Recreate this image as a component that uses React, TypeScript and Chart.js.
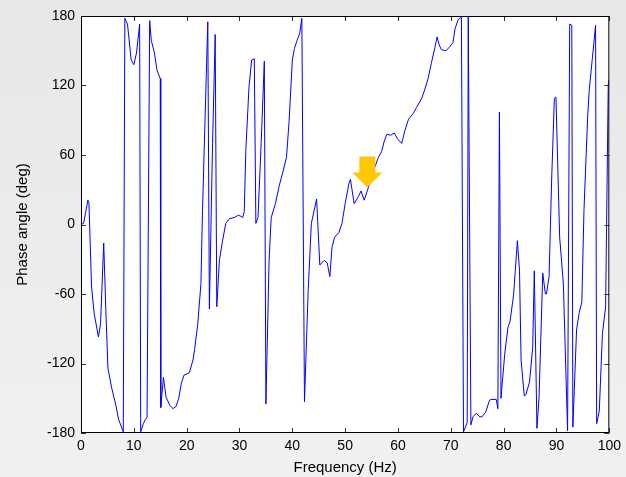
import React, { useEffect, useRef } from "react";
import { Chart, registerables } from "chart.js";

Chart.register(...registerables);

// Frequency samples (Hz)
const FREQ = [
  0, 0.5, 1.3, 1.5, 2.0, 2.5, 3.3, 3.7, 4.3, 4.7, 5.1, 5.8, 6.6, 7.1, 8.0, 8.3,
  8.8, 9.5, 10.0, 10.5, 11.1, 11.3, 11.8, 12.2, 12.5, 13.0, 13.3, 13.9, 14.4,
  15.0, 15.1, 15.6, 16.1, 16.8, 17.4, 18.0, 18.5, 19.0, 19.5, 20.5, 21.2, 21.5,
  22.1, 22.7, 23.0, 23.7, 24.0, 24.3, 24.9, 25.4, 25.7, 26.2, 26.8, 27.4, 28.1,
  29.0, 29.8, 30.3, 30.6, 30.9, 31.2, 31.8, 32.3, 32.8, 33.1, 33.5, 34.1, 34.7,
  35.0, 35.6, 36.0, 36.8, 37.5, 38.3, 38.9, 39.4, 40.0, 40.4, 40.9, 41.4, 41.8,
  42.3, 43.0, 43.6, 44.6, 45.2, 46.0, 46.6, 47.1, 47.5, 48.0, 48.8, 49.4, 50.0,
  50.7, 51.0, 51.7, 52.5, 53.0, 53.6, 54.4, 55.4, 56.3, 56.9, 57.4, 57.9, 58.6,
  59.3, 59.9, 60.7, 61.3, 62.0, 62.9, 63.5, 64.5, 65.1, 65.7, 66.3, 67.0, 67.4,
  67.8, 68.2, 69.1, 69.7, 70.4, 70.8, 71.4, 72.0, 72.4, 73.1, 73.3, 73.8, 74.2,
  74.8, 75.5, 75.9, 76.6, 77.3, 77.6, 78.6, 78.9, 79.2, 79.5, 80.2, 80.8, 81.2,
  81.9, 82.2, 82.6, 83.0, 83.3, 83.9, 84.2, 84.9, 85.5, 85.8, 86.3, 86.7, 87.4,
  87.9, 88.1, 88.6, 89.1, 89.6, 89.9, 90.6, 91.3, 92.1, 92.5, 92.9, 93.1, 93.8,
  94.3, 94.8, 95.2, 95.9, 96.2, 96.8, 97.4, 97.6, 98.1, 98.7, 99.3, 99.8, 100,
];

// Phase angle (deg) at each frequency
const PHASE = [
  0, 1, 21, 19, -54, -77, -97, -86, -16, -74, -124, -141, -156, -168, -179, 178,
  173, 142, 138, 148, 173, -179, -172, -168, -167, 176, 159, 148, 133,
  126, -158, -132, -149, -156, -159, -157, -150, -137, -130, -128, -117, -108,
  -86, -51, 12, 127, 175, -73, 70, 164, -71, -31, -14, 1, 5,
  6, 8, 7, 6, 11, 64, 119, 142, 143, 1, 6, 70, 141,
  -155, -31, 6, 18, 33, 47, 58, 90, 142, 152, 159, 165, 178,
  -153, -57, 1, 22, -35, -31, -33, -45, -20, -11, -7, 1, 18,
  35, 39, 18, 24, 29, 21, 32, 47, 58, 63, 72, 78, 77,
  79, 74, 70, 81, 91, 96, 101, 109, 117, 126, 139, 153, 162,
  155, 151, 150, 153, 157, 169, 177, 179, -179, -171, 179, -173, -166,
  -163, -166, -166, -162, -152, -151, -151, -159, 97, -150, -112, -89, -84,
  -60, -40, -14, -40, -117, -148, -147, -136, -106, -40, -176, -149, -42,
  -60, -60, -45, 41, 109, 110, -11, -51, -178, 173, 172, -175, -91,
  -76, -67, 12, 93, 116, 144, 172, -172, -161, -94, -71, 121, 125,
];

const X_TICK_STEP = 10;
const Y_TICK_STEP = 60;

// Marker pointing at the feature near 54 Hz
const ARROW_TIP = { x: 54.2, y: 32 };

const FONT = "'Liberation Sans', Arial, Helvetica, sans-serif";

const backgroundPlugin = {
  id: "figureBackground",
  beforeDraw(chart: any) {
    const { ctx, width, height, chartArea } = chart;
    ctx.save();
    const g = ctx.createLinearGradient(0, 0, 0, height);
    g.addColorStop(0, "#e7e7e7");
    g.addColorStop(1, "#f1f1f1");
    ctx.fillStyle = g;
    ctx.fillRect(0, 0, width, height);
    ctx.fillStyle = "#ffffff";
    ctx.fillRect(
      chartArea.left,
      chartArea.top,
      chartArea.right - chartArea.left,
      chartArea.bottom - chartArea.top
    );
    ctx.restore();
  },
};

const framePlugin = {
  id: "axesFrame",
  afterDatasetsDraw(chart: any) {
    const { ctx, chartArea, scales } = chart;
    const { left, right, top, bottom } = chartArea;
    const len = 5;
    ctx.save();
    ctx.strokeStyle = "#333333";
    ctx.lineWidth = 1;
    ctx.beginPath();
    scales.x.ticks.forEach((t: any) => {
      const px = Math.round(scales.x.getPixelForValue(t.value)) + 0.5;
      ctx.moveTo(px, bottom);
      ctx.lineTo(px, bottom - len);
      ctx.moveTo(px, top);
      ctx.lineTo(px, top + len);
    });
    scales.y.ticks.forEach((t: any) => {
      const py = Math.round(scales.y.getPixelForValue(t.value)) + 0.5;
      ctx.moveTo(left, py);
      ctx.lineTo(left + len, py);
      ctx.moveTo(right, py);
      ctx.lineTo(right - len, py);
    });
    ctx.stroke();
    ctx.strokeStyle = "#000000";
    ctx.strokeRect(left + 0.5, top + 0.5, right - left - 1, bottom - top - 1);
    ctx.restore();
  },
};

const arrowPlugin = {
  id: "arrowMarker",
  afterDatasetsDraw(chart: any) {
    const { ctx, scales } = chart;
    const tx = scales.x.getPixelForValue(ARROW_TIP.x);
    const ty = scales.y.getPixelForValue(ARROW_TIP.y);
    const headH = 15;
    const headW = 15;
    const shaftW = 8;
    const shaftH = 16;
    ctx.save();
    ctx.fillStyle = "#ffc800";
    ctx.beginPath();
    ctx.moveTo(tx, ty);
    ctx.lineTo(tx - headW, ty - headH);
    ctx.lineTo(tx - shaftW, ty - headH);
    ctx.lineTo(tx - shaftW, ty - headH - shaftH);
    ctx.lineTo(tx + shaftW, ty - headH - shaftH);
    ctx.lineTo(tx + shaftW, ty - headH);
    ctx.lineTo(tx + headW, ty - headH);
    ctx.closePath();
    ctx.fill();
    ctx.restore();
  },
};

export default function App() {
  const canvasRef = useRef<HTMLCanvasElement | null>(null);

  useEffect(() => {
    document.body.style.margin = "0";
    const canvas = canvasRef.current;
    if (!canvas) return;
    const points = FREQ.map((f, i) => ({ x: f, y: PHASE[i] }));

    const chart = new Chart(canvas, {
      type: "line",
      data: {
        datasets: [
          {
            data: points,
            borderColor: "#0000ff",
            borderWidth: 1,
            pointRadius: 0,
            tension: 0,
            fill: false,
          },
        ],
      },
      options: {
        animation: false,
        responsive: false,
        devicePixelRatio: 1,
        layout: { padding: { top: 16, right: 14, left: 0, bottom: 0 } },
        plugins: {
          legend: { display: false },
          tooltip: { enabled: false },
        },
        scales: {
          x: {
            type: "linear",
            min: 0,
            max: 100,
            grid: { display: false, drawTicks: false },
            border: { display: false },
            ticks: {
              stepSize: X_TICK_STEP,
              padding: 5,
              color: "#000000",
              font: { family: FONT, size: 14 },
              maxRotation: 0,
            },
            title: {
              display: true,
              text: "Frequency (Hz)",
              color: "#000000",
              font: { family: FONT, size: 15 },
              padding: { top: 4, bottom: 0 },
            },
            afterFit(scale: any) {
              scale.height = 44;
            },
          },
          y: {
            type: "linear",
            min: -180,
            max: 180,
            grid: { display: false, drawTicks: false },
            border: { display: false },
            ticks: {
              stepSize: Y_TICK_STEP,
              padding: 6,
              color: "#000000",
              font: { family: FONT, size: 14 },
            },
            title: {
              display: true,
              text: "Phase angle (deg)",
              color: "#000000",
              font: { family: FONT, size: 15 },
              padding: { top: 14, bottom: 0 },
            },
            afterFit(scale: any) {
              scale.width = 81;
            },
          },
        },
      },
      plugins: [backgroundPlugin, framePlugin, arrowPlugin],
    });

    return () => chart.destroy();
  }, []);

  return (
    <div style={{ position: "absolute", left: 0, top: 0 }}>
      <canvas
        ref={canvasRef}
        width={626}
        height={477}
        style={{ display: "block", width: 626, height: 477 }}
      />
    </div>
  );
}
